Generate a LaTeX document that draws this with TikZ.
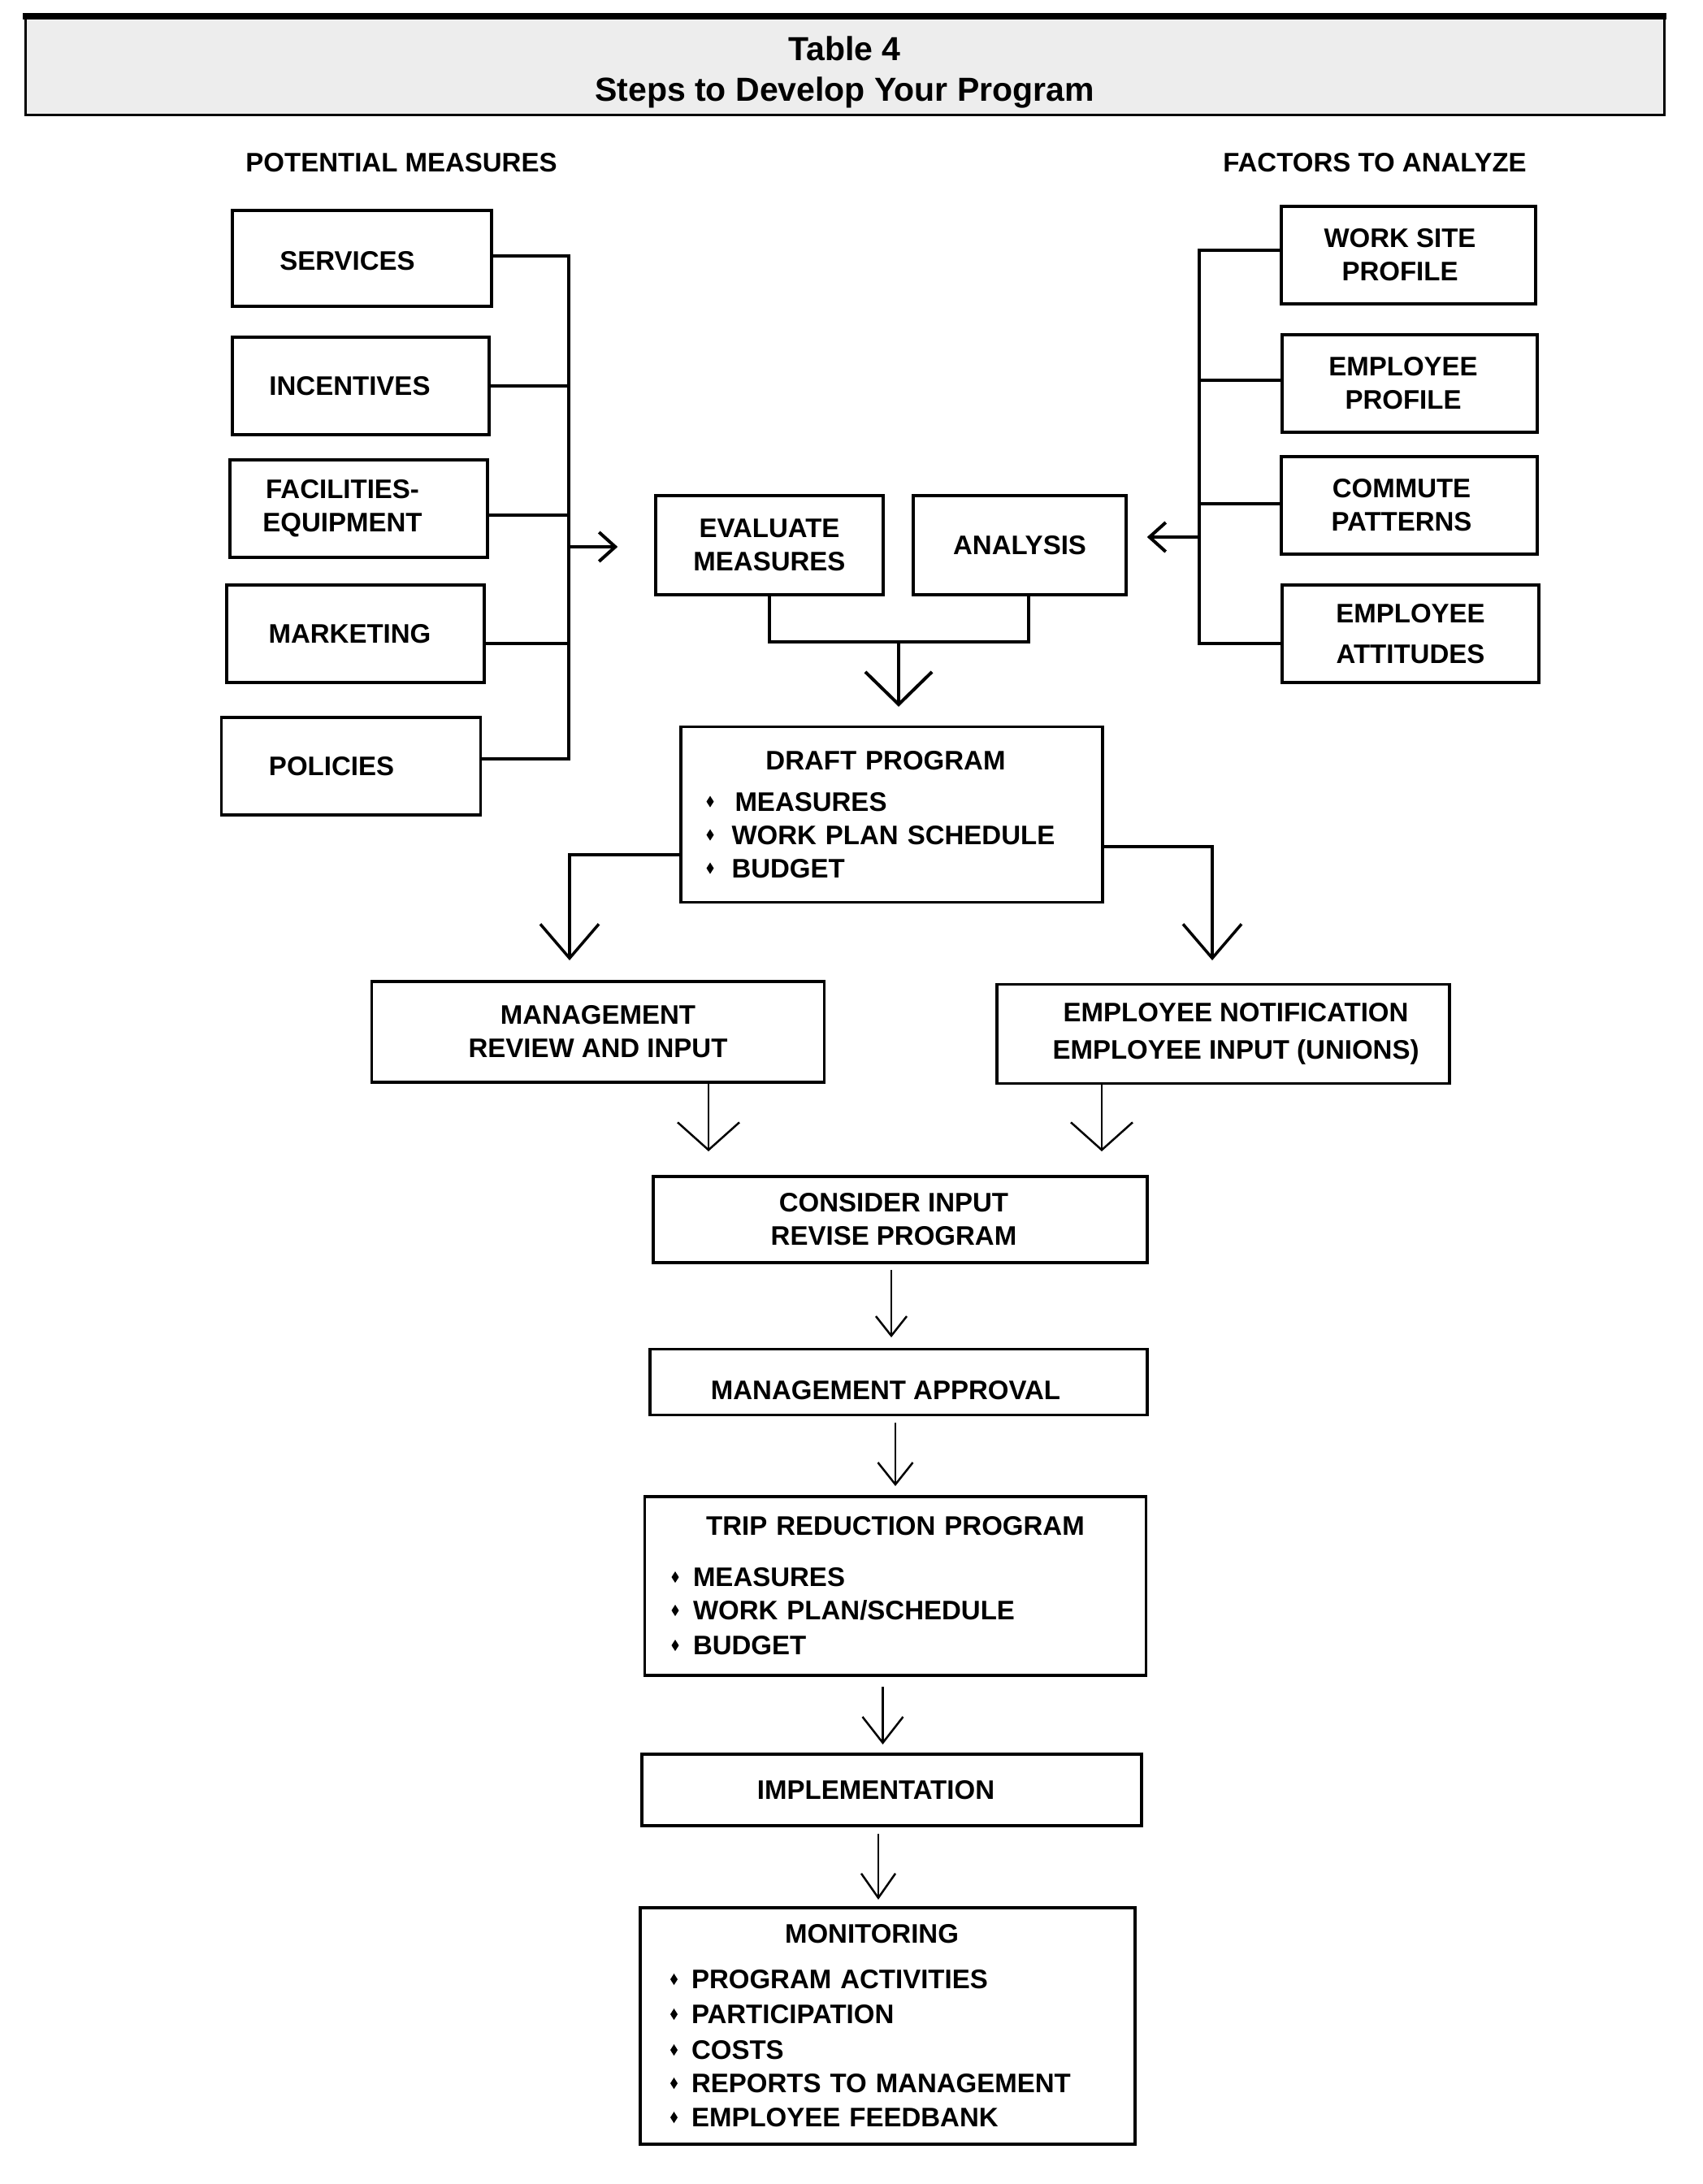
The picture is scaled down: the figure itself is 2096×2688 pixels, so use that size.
\documentclass[tikz,border=0pt]{standalone}
\usepackage{fontspec}
\setmainfont{Liberation Sans}
\usetikzlibrary{arrows.meta}
\newcommand\dmd[1][22pt]{\tikz[baseline=0pt]\fill (0pt,11.8pt)--(4.5pt,18.8pt)--(9pt,11.8pt)--(4.5pt,4.8pt)--cycle;\hspace*{#1}}
\begin{document}
\begin{tikzpicture}[x=1pt,y=-1pt,
  txt/.style={font=\bfseries\fontsize{33}{41}\selectfont},
  bx/.style 2 args={txt,draw,line width=3.5pt,inner sep=0pt,align=center,minimum width=#1,minimum height=#2},
  lst/.style n args={3}{txt,draw,line width=3.5pt,inner sep=0pt,align=left,text width=#1,minimum width=#2,minimum height=#3},
  conn/.style={line width=3.5pt},
  arr/.style n args={3}{line width=#3,-{Straight Barb[length=#1,width=#2]}}
]
\fill[white] (0,0) rectangle (2096,2688);
\useasboundingbox (0,0) rectangle (2096,2688);

% title
\node[draw,line width=3pt,fill=black!7,minimum width=2017pt,minimum height=124pt,inner sep=0pt] (title) at (1039.5,79) {};
\draw[line width=8pt] ([xshift=-1.5pt,yshift=-4pt]title.north west) -- ([xshift=1.5pt,yshift=-4pt]title.north east);
\node[font=\bfseries\fontsize{41}{50}\selectfont,align=center] (ttl) at (1039.5,89) {Table 4\\Steps to Develop Your Program};

% headers
\node[txt] (pm) at (494,200.5) {POTENTIAL MEASURES};
\node[txt] (fa) at (1692,200.5) {FACTORS TO ANALYZE};

% left column
\node[bx={319pt}{118pt},text height=30pt] (services) at (445.5,318) {\hspace*{-36pt}SERVICES};
\node[bx={316pt}{120pt}] (incentives) at (444,475) {\hspace*{-27pt}INCENTIVES};
\node[bx={317pt}{120pt}] (facilities) at (441.5,626) {\hspace*{-40pt}FACILITIES-\\\hspace*{-40pt}EQUIPMENT};
\node[bx={317pt}{120pt}] (marketing) at (437.5,780) {\hspace*{-14pt}MARKETING};
\node[bx={319pt}{120pt}] (policies) at (432,943) {\hspace*{-48pt}POLICIES};

% right column
\node[bx={313pt}{120pt}] (worksite) at (1733.5,314) {\hspace*{-21pt}WORK SITE\\\hspace*{-21pt}PROFILE};
\node[bx={314pt}{120pt}] (empprofile) at (1735,472) {\hspace*{-16pt}EMPLOYEE\\\hspace*{-16pt}PROFILE};
\node[bx={315pt}{120pt}] (commute) at (1734.5,622) {\hspace*{-19pt}COMMUTE\\\hspace*{-19pt}PATTERNS};
\node[bx={316pt}{120pt}] (attitudes) at (1736,780) {EMPLOYEE\\[9pt]ATTITUDES};

% middle
\node[bx={280pt}{122pt}] (evaluate) at (947,671) {EVALUATE\\MEASURES};
\node[bx={262pt}{122pt}] (analysis) at (1255,671) {ANALYSIS};

\node[lst={456pt}{519pt}{216pt}] (draft) at (1097.5,1002.5)
  {\makebox[\linewidth]{\hspace*{-15pt}DRAFT PROGRAM}\\[10pt]
   \dmd[26pt]MEASURES\\
   \dmd WORK PLAN SCHEDULE\\
   \dmd BUDGET};

\node[bx={557pt}{124pt}] (mgmt) at (736,1270) {MANAGEMENT\\REVIEW AND INPUT};
\node[bx={557pt}{122pt}] (empnot) at (1505.5,1272.5) {\hspace*{31pt}EMPLOYEE NOTIFICATION\\[5pt]\hspace*{31pt}EMPLOYEE INPUT (UNIONS)};

\node[bx={608pt}{106pt}] (consider) at (1108,1501) {\hspace*{-16pt}CONSIDER INPUT\\\hspace*{-16pt}REVISE PROGRAM};
\node[bx={612pt}{81pt},text height=43.6pt] (approval) at (1106,1701) {\hspace*{-32pt}MANAGEMENT APPROVAL};

\node[lst={551pt}{617pt}{220pt}] (trip) at (1102,1952)
  {\makebox[\linewidth]{TRIP REDUCTION PROGRAM}\\[22pt]
   \dmd[17.5pt]MEASURES\\
   \dmd[17.5pt]WORK PLAN/SCHEDULE\\[2pt]
   \dmd[17.5pt]BUDGET};

\node[bx={615pt}{88pt}] (impl) at (1097.5,2203) {\hspace*{-39pt}IMPLEMENTATION};

\node[lst={535pt}{609pt}{291pt}] (mon) at (1092.5,2493.5)
  {\makebox[\linewidth]{\hspace*{-39pt}MONITORING}\\[15pt]
   \dmd[17pt]PROGRAM ACTIVITIES\\[2pt]
   \dmd[17pt]PARTICIPATION\\[3pt]
   \dmd[17pt]COSTS\\
   \dmd[17pt]REPORTS TO MANAGEMENT\\[1pt]
   \dmd[17pt]EMPLOYEE FEEDBANK};

% left bus
\coordinate (lbus) at (700,673);
\draw[conn] ([yshift=3pt]services.east) -| (lbus);
\draw[conn] (incentives.east) -| (lbus);
\draw[conn] ([yshift=-8pt]facilities.east) -| (lbus);
\draw[conn] ([yshift=-12pt]marketing.east) -| (lbus);
\draw[conn] ([yshift=9pt]policies.east) -| (lbus);
\draw[arr={20pt}{36pt}{4pt},shorten >=45pt] (lbus) -- (lbus -| evaluate.west);

% right bus
\coordinate (rbus) at (1476,661);
\draw[conn] ([yshift=6pt]worksite.west) -| (rbus);
\draw[conn] ([yshift=4pt]empprofile.west) -| (rbus);
\draw[conn] ([yshift=2pt]commute.west) -| (rbus);
\draw[conn] ([yshift=-12pt]attitudes.west) -| (rbus);
\draw[arr={20pt}{36pt}{4pt},shorten >=24pt] (rbus) -- (rbus -| analysis.east);

% evaluate + analysis join
\coordinate (join) at (1106,790);
\draw[conn] (evaluate.south) |- (join);
\draw[conn] ([xshift=11pt]analysis.south) |- (join);
\draw[arr={40pt}{82pt}{4pt},shorten >=23pt] (join) -- (join |- draft.north);

% draft to review boxes
\coordinate (mtip) at (701,1182);
\coordinate (etip) at (1492,1182);
\draw[arr={42pt}{72pt}{3.5pt}] ([yshift=-49.5pt]draft.west) -| (mtip);
\draw[arr={42pt}{72pt}{3.5pt}] ([yshift=-39.5pt]draft.east) -| (etip);

% review boxes to consider
\coordinate (c1) at (872,1417);
\coordinate (c2) at (1356,1417);
\draw[arr={34pt}{76pt}{2.5pt}] (mgmt.south -| c1) -- (c1);
\draw[arr={34pt}{76pt}{2.5pt}] (empnot.south -| c2) -- (c2);

% main chain
\coordinate (a1) at (1097,1646);
\draw[arr={24pt}{38pt}{2.5pt},shorten <=7pt] (consider.south -| a1) -- (a1);
\coordinate (a2) at (1102,1829);
\draw[arr={27pt}{43pt}{2.5pt},shorten <=8pt] (approval.south -| a2) -- (a2);
\coordinate (a3) at (1086.5,2147);
\draw[arr={32pt}{50pt}{2.5pt},shorten <=12pt] (trip.south -| a3) -- (a3);
\coordinate (a4) at (1081,2338);
\draw[arr={30pt}{42pt}{2.5pt},shorten <=8pt] (impl.south -| a4) -- (a4);
\end{tikzpicture}
\end{document}
